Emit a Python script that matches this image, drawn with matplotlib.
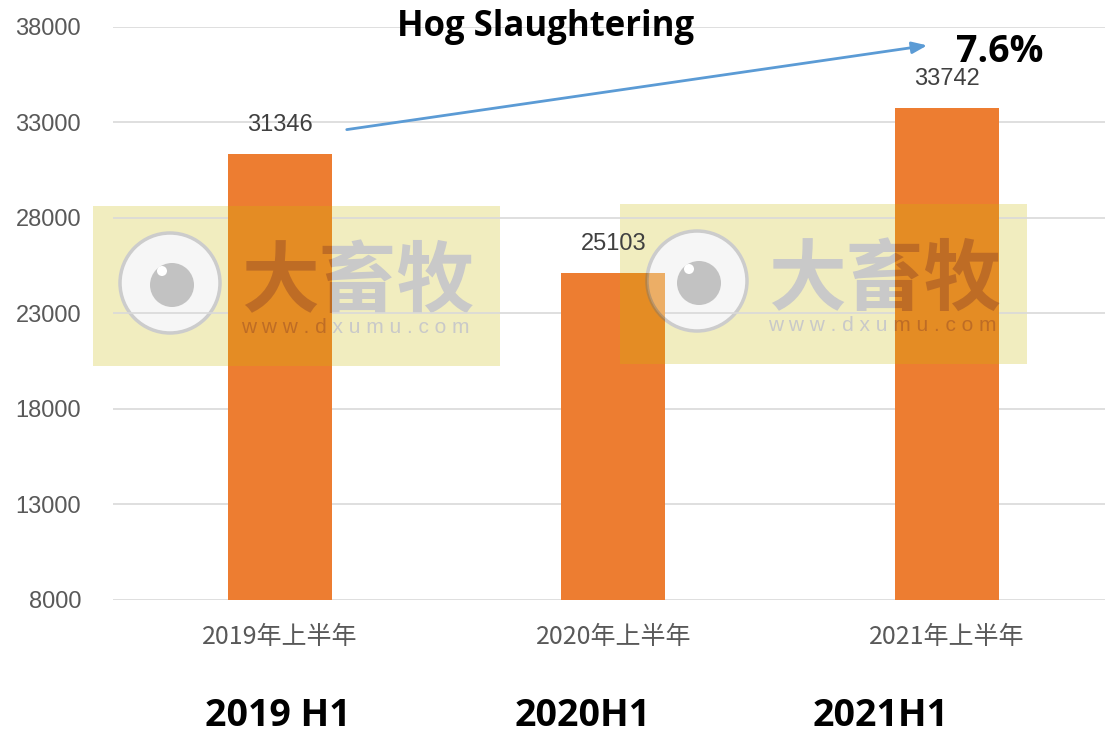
import matplotlib
matplotlib.use("Agg")
import matplotlib.pyplot as plt
from matplotlib.patches import Rectangle, Circle

categories = ["2019年上半年", "2020年上半年", "2021年上半年"]
values = [31346, 25103, 33742]
en_labels = ["2019 H1", "2020H1", "2021H1"]
yticks = [8000, 13000, 18000, 23000, 28000, 33000, 38000]
title = "Hog Slaughtering"
growth_label = "7.6%"

W, H = 1107, 737
fig = plt.figure(figsize=(W / 100, H / 100), dpi=100)

def px(x0, y0, x1, y1):
    return [x0 / W, 1 - y1 / H, (x1 - x0) / W, (y1 - y0) / H]

def overlay(z):
    o = fig.add_axes([0, 0, 1, 1], zorder=z)
    o.set_xlim(0, W)
    o.set_ylim(H, 0)
    o.axis("off")
    o.patch.set_alpha(0)
    return o

ov_under = overlay(0)

ax = fig.add_axes(px(113, 27, 1105, 600), zorder=1)
ax.patch.set_alpha(0)
xs = list(range(len(categories)))
bars = ax.bar(xs, values, width=0.312, color="#ED7D31", zorder=2)
ax.set_xlim(-0.5, 2.474)
ax.set_ylim(8000, 38000)
ax.set_yticks(yticks)
ax.set_yticklabels([str(v) for v in yticks], fontsize=17, color="#595959",
                   family=["Liberation Sans", "DejaVu Sans"])
ax.set_xticks(xs)
ax.set_xticklabels(categories, fontsize=18, color="#595959",
                   family=["Noto Sans CJK SC", "DejaVu Sans"])
ax.tick_params(axis="both", length=0)
ax.tick_params(axis="y", pad=23)
ax.tick_params(axis="x", pad=17)
for s in ax.spines.values():
    s.set_visible(False)
ax.grid(axis="y", color="#D9D9D9", linewidth=1.2, zorder=0)
ax.set_axisbelow(True)

for x, v in zip(xs, values):
    ax.annotate(str(v), (x, v), xytext=(0, 13), textcoords="offset points",
                ha="center", va="bottom", fontsize=17, color="#404040",
                family=["Liberation Sans", "DejaVu Sans"], zorder=6)

ov_over = overlay(5)

YELLOW = (202 / 255, 186 / 255, 0)
WM_W, WM_H = 407, 160

def watermark(o, x0, y0, clip=None):
    arts = []
    if clip is None:
        ring, fill, inner, txt = ((0.80, 0.80, 0.80), (0.965, 0.965, 0.965),
                                  (0.76, 0.76, 0.76), (0.79, 0.79, 0.79))
    else:
        ring, fill, inner, txt = ((0.45, 0.45, 0.45, 0.4), (1, 1, 1, 0.3),
                                  (0.45, 0.45, 0.45, 0.4), (0.47, 0.2, 0.16, 0.35))
    arts.append(o.add_patch(Rectangle((x0, y0), WM_W, WM_H, facecolor=YELLOW,
                                      alpha=0.25, edgecolor="none")))
    cx, cy = x0 + 77, y0 + 77
    arts.append(o.add_patch(Circle((cx, cy), 50, facecolor=fill,
                                   edgecolor=ring, linewidth=2.5)))
    arts.append(o.add_patch(Circle((cx + 2, cy + 2), 22, facecolor=inner,
                                   edgecolor="none")))
    if clip is None:
        arts.append(o.add_patch(Circle((cx - 8, cy - 12), 5, facecolor="white",
                                       edgecolor="none")))
    arts.append(o.text(x0 + 265, y0 + 77, "大畜牧", fontsize=56, fontweight="bold",
                       color=txt, ha="center", va="center",
                       family=["Noto Sans CJK SC", "DejaVu Sans"]))
    arts.append(o.text(x0 + 262, y0 + 121, "w w w . d x u m u . c o m", fontsize=15,
                       color=txt, ha="center", va="center",
                       family=["Liberation Sans", "DejaVu Sans"]))
    if clip is not None:
        for a in arts:
            a.set_clip_path(clip)
            a.set_clip_on(True)

wm_pos = [(93, 206), (620, 204)]
for p in wm_pos:
    watermark(ov_under, *p)
for b in bars:
    bb = b.get_window_extent()
    for p in wm_pos:
        if bb.x1 > p[0] and bb.x0 < p[0] + WM_W:
            watermark(ov_over, *p, clip=b)

ov_over.text(546, 27, title, fontsize=25, fontweight="bold", color="black",
             ha="center", va="center", family=["Open Sans", "DejaVu Sans"])
ov_over.annotate("", xy=(930, 45), xytext=(344, 130),
                 arrowprops=dict(arrowstyle="-|>,head_length=0.9,head_width=0.35",
                                 color="#5B9BD5", lw=2))
ov_over.text(1000, 52, growth_label, fontsize=27, fontweight="bold", color="black",
             ha="center", va="center", family=["Open Sans", "DejaVu Sans"])

label_x = [278, 583, 881]
for xp, lab in zip(label_x, en_labels):
    ov_over.text(xp, 716, lab, fontsize=27, fontweight="bold", color="black",
                 ha="center", va="center",
                 family=["Liberation Sans Narrow", "Open Sans", "DejaVu Sans"])

fig.savefig("out.png", dpi=100)
